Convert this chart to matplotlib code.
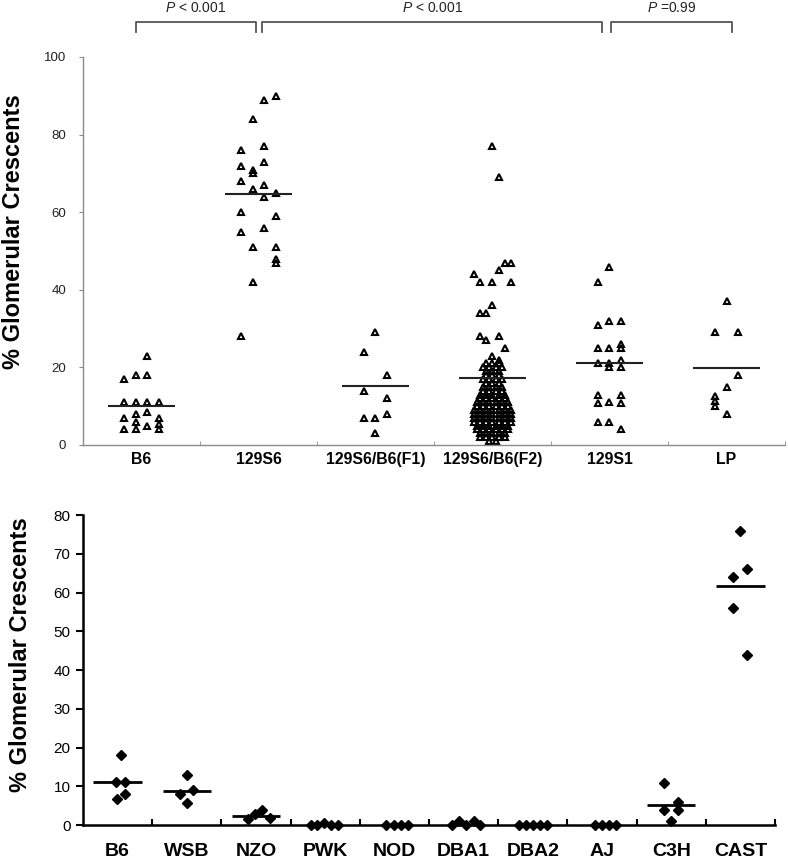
import numpy as np
import matplotlib.pyplot as plt

plt.rcParams['font.family'] = ['Liberation Sans', 'DejaVu Sans']
plt.rcParams['mathtext.fontset'] = 'custom'
plt.rcParams['mathtext.it'] = 'Liberation Sans:italic'
plt.rcParams['mathtext.rm'] = 'Liberation Sans'

# ---- painel superior ----
strains_top = ['B6', '129S6', '129S6/B6(F1)', '129S6/B6(F2)', '129S1', 'LP']

b6_top = [17, 11, 7, 4, 18, 11, 8, 6, 4, 23, 18, 11, 8.5, 5, 11, 7, 5.5, 4]
b6_top_col = [-1.5]*4 + [-0.5]*5 + [0.5]*5 + [1.5]*4

s129s6 = [76, 72, 68, 60, 55, 28,
          84, 71, 70, 66, 51, 42,
          89, 77, 73, 67, 64, 56,
          90, 65, 59, 51, 48, 47]
s129s6_col = [-1.5]*6 + [-0.5]*6 + [0.5]*6 + [1.5]*6

f1 = [24, 14, 7, 29, 7, 3, 18, 12, 8]
f1_col = [-1]*3 + [0]*3 + [1]*3

# F2: pontos esparsos de cima + bloco denso embaixo
f2_upper = [77, 69, 47, 47, 45, 44, 42, 42, 42, 36, 34, 34, 28, 27, 28, 25, 23, 22]
f2_upper_col = [0, 1, 2, 3, 1, -3, -2, 0, 3, 0, -2, -1, -2, -1, 1, 2, 0, 1]
f2_lower = ([21]*3 + [20]*4 + [19]*3 + [18]*3 + [17]*4 + [16]*3 + [15]*4 +
            [14]*4 + [13]*5 + [12]*5 + [11]*6 + [10]*6 + [9]*7 + [8]*7 +
            [7]*7 + [6]*7 + [5]*6 + [4]*6 + [3]*5 + [2]*5 + [1]*2)

s129s1 = [42, 31, 25, 21, 13, 10.7, 6,
          46, 32, 25, 21, 20, 11, 6,
          32, 26, 25, 22, 20, 13, 10.7, 4]
s129s1_col = [-1]*7 + [0]*7 + [1]*8

lp = [29, 12.5, 11.4, 10, 37, 15, 8, 29, 18]
lp_col = [-1]*4 + [0]*3 + [1]*2

means_top = [10, 64.8, 15.2, 17.2, 21.2, 19.8]

brk_x0 = [-0.05, 1.03, 4.01]
brk_x1 = [0.98, 3.94, 5.05]
brk_txt = ['$P$ < 0.001', '$P$ < 0.001', '$P$ =0.99']

# ---- painel inferior ----
strains_bot = ['B6', 'WSB', 'NZO', 'PWK', 'NOD', 'DBA1', 'DBA2', 'AJ', 'C3H', 'CAST']
bot_vals = [
    [18, 11.2, 11.2, 6.7, 7.9],
    [12.9, 7.9, 9.0, 5.8],
    [1.5, 2.8, 3.9, 1.7],
    [0, 0, 0.6, 0, 0],
    [0, 0, 0, 0],
    [0, 1, 0, 1, 0],
    [0, 0, 0, 0, 0],
    [0, 0, 0, 0],
    [10.9, 6.0, 3.9, 3.9, 1.0],
    [76, 66, 64, 56, 44],
]
bot_cols = [
    [0.5, -0.2, 1.0, -0.1, 1.0],
    [0.1, -1.0, 0.9, 0.1],
    [-1.2, -0.1, 0.9, 2.0],
    [-2.0, -1.1, -0.1, 0.8, 1.8],
    [-1.2, -0.1, 1.0, 2.0],
    [-1.6, -0.7, 0.4, 1.5, 2.4],
    [-2.0, -0.9, 0.1, 1.1, 2.0],
    [-1.0, 0.0, 1.0, 2.0],
    [-1, 1, -1, 1, 0],
    [0, 1, -1, -1, 1],
]
means_bot = [11.2, 8.8, 2.4, None, None, None, None, None, 5.2, 61.7]

fig = plt.figure(figsize=(7.88, 8.61), dpi=100)

# ===== topo =====
ax = fig.add_axes([0.1053, 0.4832, 0.8909, 0.4506])
dx = 11.7 / 117.0   # espacamento das colunas
dxf2 = 6.2 / 117.0

tri = dict(ls='none', marker='^', ms=4.8, mfc='none', mec='black', mew=1.5, clip_on=False)
grupos = [(b6_top, b6_top_col), (s129s6, s129s6_col), (f1, f1_col),
          None, (s129s1, s129s1_col), (lp, lp_col)]
for i, g in enumerate(grupos):
    if g is None:
        continue
    v, c = g
    ax.plot(i + np.array(c) * dx, v, **tri)

# F2
ax.plot(3 + np.array(f2_upper_col) * dxf2, f2_upper, **tri)
xs = []
ys = []
for val in sorted(set(f2_lower)):
    n = f2_lower.count(val)
    cc = np.arange(n) - (n - 1) / 2.0
    xs += list(3 + cc * dxf2)
    ys += [val] * n
ax.plot(xs, ys, **tri)

ax.hlines(means_top, np.arange(6) - 0.29, np.arange(6) + 0.29, color='#222', lw=1.5)

ax.set_xlim(-0.5, 5.5)
ax.set_ylim(0, 100)
for s in ['top', 'right']:
    ax.spines[s].set_visible(False)
for s in ['left', 'bottom']:
    ax.spines[s].set_color('#8a8a8a')
    ax.spines[s].set_linewidth(1.0)
ax.set_yticks(np.arange(0, 101, 20))
ax.tick_params(axis='y', direction='out', length=3, color='#8a8a8a', pad=9,
               labelsize=9.5, labelcolor='#222')
ax.set_xticks(np.arange(6))
ax.set_xticklabels(strains_top, fontweight='bold', fontsize=11.4)
ax.tick_params(axis='x', length=0, pad=5)
ax.set_xticks(np.arange(6) + 0.5, minor=True)
ax.tick_params(axis='x', which='minor', direction='in', length=3, color='#8a8a8a')
ax.set_ylabel('% Glomerular Crescents', fontsize=17, fontweight='bold')
ax.yaxis.set_label_coords(-0.082, 0.55)

trans = ax.get_xaxis_transform()
for x0, x1, t in zip(brk_x0, brk_x1, brk_txt):
    ax.plot([x0, x0, x1, x1], [1.064, 1.090, 1.090, 1.064], transform=trans,
            color='#555', lw=1.3, clip_on=False)
    ax.text((x0 + x1) / 2, 1.126, t, transform=trans, ha='center', va='center',
            fontsize=10, color='#222')

# ===== baixo =====
ax2 = fig.add_axes([0.1053, 0.0418, 0.8782, 0.3600])
bdx = 7.0 / 69.2
for i in range(len(strains_bot)):
    ax2.plot(i + np.array(bot_cols[i]) * bdx, bot_vals[i], ls='none', marker='D',
             ms=4.6, color='black', clip_on=False, zorder=3)
    if means_bot[i] is not None:
        ax2.hlines(means_bot[i], i - 0.35, i + 0.35, color='black', lw=2)

ax2.set_xlim(-0.5, 9.5)
ax2.set_ylim(0, 80)
for s in ['top', 'right']:
    ax2.spines[s].set_visible(False)
for s in ['left', 'bottom']:
    ax2.spines[s].set_linewidth(1.8)
ax2.set_yticks(np.arange(0, 81, 10))
ax2.tick_params(axis='y', direction='out', length=5, width=1.5, pad=4, labelsize=11)
ax2.set_xticks(np.arange(10))
ax2.set_xticklabels(strains_bot, fontweight='bold', fontsize=14)
ax2.tick_params(axis='x', length=0, pad=13)
ax2.set_xticks(np.arange(10) + 0.5, minor=True)
ax2.tick_params(axis='x', which='minor', direction='in', length=4, width=1.5)
ax2.set_ylabel('% Glomerular Crescents', fontsize=17, fontweight='bold')
ax2.yaxis.set_label_coords(-0.073, 0.55)

plt.savefig('out.png', dpi=100)
